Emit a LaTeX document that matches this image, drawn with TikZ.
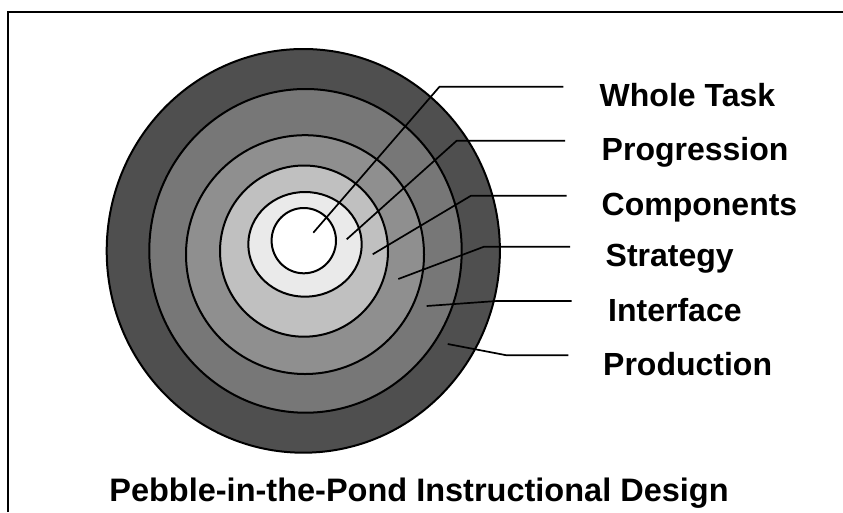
\documentclass[tikz,border=0pt]{standalone}
\usepackage{fontspec}
\setmainfont{Liberation Sans}
\newfontfamily\labfont{Liberation Sans}
\definecolor{ringA}{gray}{0.31}
\definecolor{ringB}{gray}{0.467}
\definecolor{ringC}{gray}{0.56}
\definecolor{ringD}{gray}{0.753}
\definecolor{ringE}{gray}{0.918}
\begin{document}
\begin{tikzpicture}[x=1pt,y=-1pt,
  ring/.style={draw=black,line width=2pt},
  leader/.style={draw=black,line width=1.7pt,line join=round},
  lab/.style={anchor=base west,inner sep=0pt,font=\labfont\bfseries\fontsize{32}{34}\selectfont},
  ttl/.style={anchor=base,inner sep=0pt,font=\labfont\bfseries\fontsize{32.5}{34}\selectfont}]
\useasboundingbox (0,0) rectangle (843,512);
\fill[white] (0,0) rectangle (843,512);
\draw[line width=2pt] (7.5,512) -- (7.5,12) -- (843,12);
% rings
\draw[ring,fill=ringA] (303.3,250.85) ellipse [x radius=196.6, y radius=201.85];
\draw[ring,fill=ringB] (305.5,250.85) ellipse [x radius=156.2, y radius=161.85];
\draw[ring,fill=ringC] (305,254.6) ellipse [x radius=119, y radius=119.4];
\draw[ring,fill=ringD] (304,251.1) ellipse [x radius=84, y radius=85.6];
\draw[ring,fill=ringE] (305,244.35) ellipse [x radius=56.7, y radius=52.35];
\draw[ring,fill=white] (303.8,240.65) ellipse [x radius=32.2, y radius=32.65];
% leader points
\coordinate (wtA) at (313.3,232.7); \coordinate (wtB) at (439.5,86.7); \coordinate (wtC) at (563.3,86.7);
\coordinate (prA) at (346.7,239.3); \coordinate (prB) at (456.7,140.7); \coordinate (prC) at (565,140.7);
\coordinate (coA) at (372.7,254.3); \coordinate (coB) at (471,195.7); \coordinate (coC) at (566.7,195.7);
\coordinate (stA) at (398.3,279); \coordinate (stB) at (484,246.7); \coordinate (stC) at (570,246.7);
\coordinate (inA) at (426.7,306); \coordinate (inB) at (496.7,301); \coordinate (inC) at (571.7,301);
\coordinate (pdA) at (447.7,344); \coordinate (pdB) at (506.7,355.3); \coordinate (pdC) at (568.3,355.3);
\draw[leader] (wtA) -- (wtB) -- (wtC);
\draw[leader] (prA) -- (prB) -- (prC);
\draw[leader] (coA) -- (coB) -- (coC);
\draw[leader] (stA) -- (stB) -- (stC);
\draw[leader] (inA) -- (inB) -- (inC);
\draw[leader] (pdA) -- (pdB) -- (pdC);
% labels
\node[lab] (wt) at (599.5,106.5) {Whole Task};
\node[lab] (pr) at (601.5,160.5) {Progression};
\node[lab] (co) at (601.5,215.5) {Components};
\node[lab] (st) at (605.5,266.5) {Strategy};
\node[lab] (in) at (608,321) {Interface};
\node[lab] (pd) at (603,375) {Production};
\node[ttl] (title) at (419,501) {Pebble-in-the-Pond Instructional Design};
\end{tikzpicture}
\end{document}
